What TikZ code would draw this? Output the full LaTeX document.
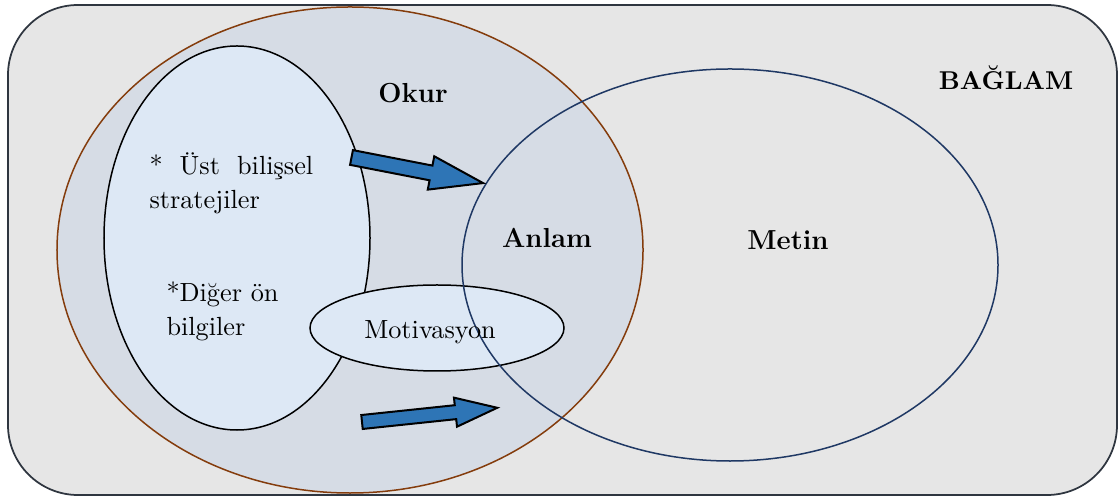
\documentclass[tikz,border=0pt]{standalone}
\usepackage{tikz}
\usetikzlibrary{shapes.geometric,positioning}
\definecolor{ctxfill}{HTML}{E6E6E6}
\definecolor{framegray}{HTML}{2F3640}
\definecolor{okurfill}{HTML}{D6DCE5}
\definecolor{okurbrown}{HTML}{843C0C}
\definecolor{bilgifill}{HTML}{DDE8F5}
\definecolor{metinblue}{HTML}{1F3864}
\definecolor{arrowblue}{HTML}{2E75B6}
% block arrow: length / head length / shaft half width / head half width
\tikzset{
  pics/fatarrow/.style args={#1/#2/#3/#4}{code={
    \draw[arrowbody] (0,-#3) -- (#1-#2,-#3) -- (#1-#2,-#4) -- (#1,0)
      -- (#1-#2,#4) -- (#1-#2,#3) -- (0,#3) -- cycle;
  }}
}

\begin{document}
\begin{tikzpicture}[
    x=0.4pt, y=-0.4pt,
    frame/.style={draw=framegray, fill=ctxfill, line width=0.7pt, rounded corners=28pt},
    readerell/.style={ellipse, draw=okurbrown, fill=okurfill, line width=0.6pt, inner sep=0pt},
    bilgiell/.style={ellipse, draw=black, fill=bilgifill, line width=0.6pt, inner sep=0pt},
    textell/.style={ellipse, draw=metinblue, line width=0.6pt, inner sep=0pt},
    arrowbody/.style={draw=black, fill=arrowblue, line width=0.8pt, line join=miter},
    lbl/.style={font=\bfseries\fontsize{11}{13}\selectfont, inner sep=0pt},
    txt/.style={font=\fontsize{10.5}{13.6}\selectfont, inner sep=0pt}
]
\useasboundingbox (0,0) rectangle (1119,498);

% Context frame
\draw[frame] (8,5) rectangle (1117,495);

% Ellipses
\node[readerell, minimum width=234.4pt, minimum height=194.4pt] (okur) at (350,250) {};
\node[bilgiell, minimum width=106.4pt, minimum height=153.6pt] (bilgi) at (237,238) {};
\node[bilgiell, minimum width=101.6pt, minimum height=34.4pt] (motiv) at (437,328) {};
\node[textell, minimum width=214.4pt, minimum height=156.8pt] (metin) at (730,265) {};

% Arrows
\pic[rotate=-11] at (351.5,157.5) {fatarrow={134/53/7.5/17}};
\pic[rotate=6] at (362,422) {fatarrow={136/42/7/14.6}};

% Labels
\node[lbl, anchor=base] (okurlbl) at (413,103) {Okur};
\node[lbl, anchor=base] (anlamlbl) at (547,248) {Anlam};
\node[lbl, anchor=base] (metinlbl) at (788,250) {Metin};
\node[lbl, anchor=base, font=\bfseries\fontsize{10.3}{13}\selectfont] (baglamlbl) at (1006,90) {BAĞLAM};
\node[txt, anchor=base] (motivlbl) at (430,339) {Motivasyon};
\node[txt, anchor=base west, align=left] (ustlbl) at (149,209)
  {\makebox[65.5pt][l]{*\hfill Üst\hfill bilişsel}\\stratejiler};
\node[txt, anchor=base west, align=left] (digerlbl) at (166,336) {*Diğer ön\\bilgiler};
\end{tikzpicture}
\end{document}
